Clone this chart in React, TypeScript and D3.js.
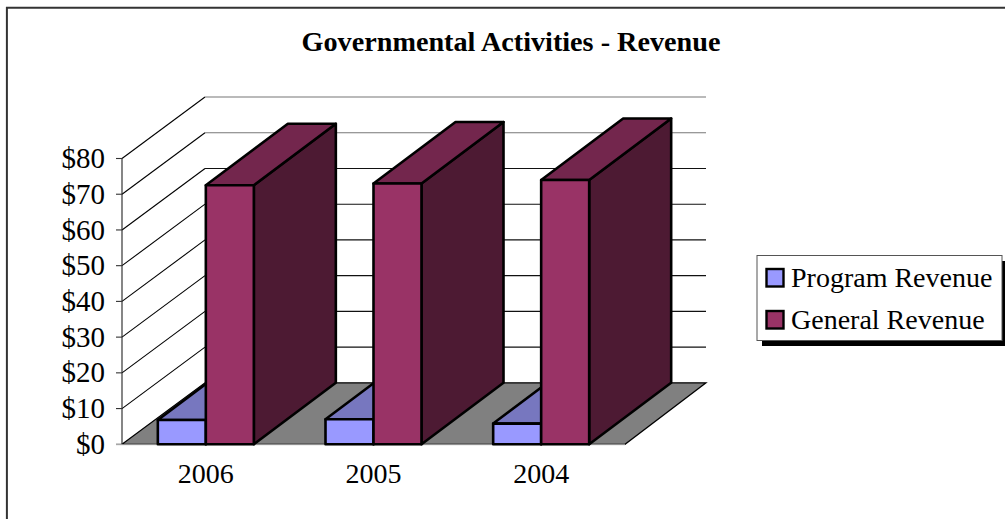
import React from "react";
import * as d3 from "d3";

const categories = ["2006", "2005", "2004"];
const programRevenue = [6.8, 7.0, 5.8];
const generalRevenue = [72.5, 73.0, 74.0];
const yTicks = [0, 10, 20, 30, 40, 50, 60, 70, 80];
const seriesNames = ["Program Revenue", "General Revenue"];
const titleText = "Governmental Activities - Revenue";

const PROGRAM = { front: "#9999FF", top: "#7777BF", side: "#4D4D80" };
const GENERAL = { front: "#993366", top: "#73264D", side: "#4D1A33" };

const y = d3.scaleLinear().domain([0, 80]).range([444.3, 158.5]);
const x = d3.scaleBand<string>().domain(categories).range([122, 625]).paddingInner(0).paddingOuter(0);
const DX = 82;
const DY = -61.5;
const BAR_W = 48;
const FMT = (v: number) => `$${v}`;

function pts(p: [number, number][]) {
  return p.map((q) => q.join(",")).join(" ");
}

function Bar3D({ x0, v, c }: { x0: number; v: number; c: { front: string; top: string; side: string } }) {
  const x1 = x0 + BAR_W;
  const yb = y(0);
  const yt = y(v);
  const common = { stroke: "#000", strokeWidth: 2.6, strokeLinejoin: "round" as const };
  return (
    <g>
      <polygon points={pts([[x1, yb], [x1 + DX, yb + DY], [x1 + DX, yt + DY], [x1, yt]])} fill={c.side} {...common} />
      <polygon points={pts([[x0, yt], [x0 + DX, yt + DY], [x1 + DX, yt + DY], [x1, yt]])} fill={c.top} {...common} />
      <rect x={x0} y={yt} width={BAR_W} height={yb - yt} fill={c.front} {...common} />
    </g>
  );
}

export default function App() {
  const y0 = y(0);
  const xL = 122;
  const xR = 625;
  const band = x.bandwidth();
  return (
    <svg
      width={1005}
      height={519}
      style={{ position: "absolute", left: 0, top: 0, fontFamily: "'Liberation Serif', serif" }}
    >
      <rect width={1005} height={519} fill="#fff" />
      <path d="M6.9,519V7.8H1005" fill="none" stroke="#333" strokeWidth={2} />
      <text x={511} y={51} textAnchor="middle" fontSize={28.2} fontWeight="bold" fill="#000">
        {titleText}
      </text>

      {/* floor */}
      <polygon points={pts([[xL, y0], [xL + DX + 1, y0 + DY], [xR + DX - 1, y0 + DY], [xR, y0]])} fill="#808080" stroke="#000" strokeWidth={1.2} />

      {/* walls and gridlines */}
      {yTicks.slice(1).map((t) => (
        <g key={t}>
          <line x1={xL} y1={y(t)} x2={xL + DX + 1} y2={y(t) + DY} stroke="#000" strokeWidth={1.1} />
          <line x1={xL + DX + 1} y1={y(t) + DY} x2={706} y2={y(t) + DY} stroke={t >= 70 ? "#777" : "#111"} strokeWidth={1.1} />
        </g>
      ))}

      {/* y axis */}
      <line x1={xL} y1={y(80)} x2={xL} y2={y0} stroke="#222" strokeWidth={1.1} />
      {yTicks.map((t) => (
        <g key={t}>
          <line x1={xL - 6} y1={y(t)} x2={xL} y2={y(t)} stroke="#333" strokeWidth={1.1} />
          <text x={105} y={y(t)} dy="0.33em" textAnchor="end" fontSize={29} fill="#000">
            {FMT(t)}
          </text>
        </g>
      ))}
      <line x1={xL - 6} y1={y0 + 0.5} x2={xR} y2={y0 + 0.5} stroke="#ccc" strokeWidth={1} />

      {/* bars */}
      {categories.map((c, i) => {
        const cx = (x(c) as number) + band / 2;
        return (
          <g key={c}>
            <Bar3D x0={cx - BAR_W} v={programRevenue[i]} c={PROGRAM} />
            <Bar3D x0={cx} v={generalRevenue[i]} c={GENERAL} />
          </g>
        );
      })}

      {/* category labels */}
      {categories.map((c) => (
        <text key={c} x={(x(c) as number) + band / 2} y={483} textAnchor="middle" fontSize={28} fill="#000">
          {c}
        </text>
      ))}

      {/* legend */}
      <rect x={762} y={261} width={243} height={85} fill="#000" />
      <rect x={757} y={255.5} width={245} height={85} fill="#fff" stroke="#555" strokeWidth={1} />
      {seriesNames.map((n, i) => (
        <g key={n}>
          <rect x={766.5} y={269 + i * 42} width={17} height={17.5} fill={i === 0 ? PROGRAM.front : GENERAL.front} stroke="#000" strokeWidth={2.4} />
          <text x={791} y={287 + i * 42} fontSize={28} fill="#000">
            {n}
          </text>
        </g>
      ))}
    </svg>
  );
}
